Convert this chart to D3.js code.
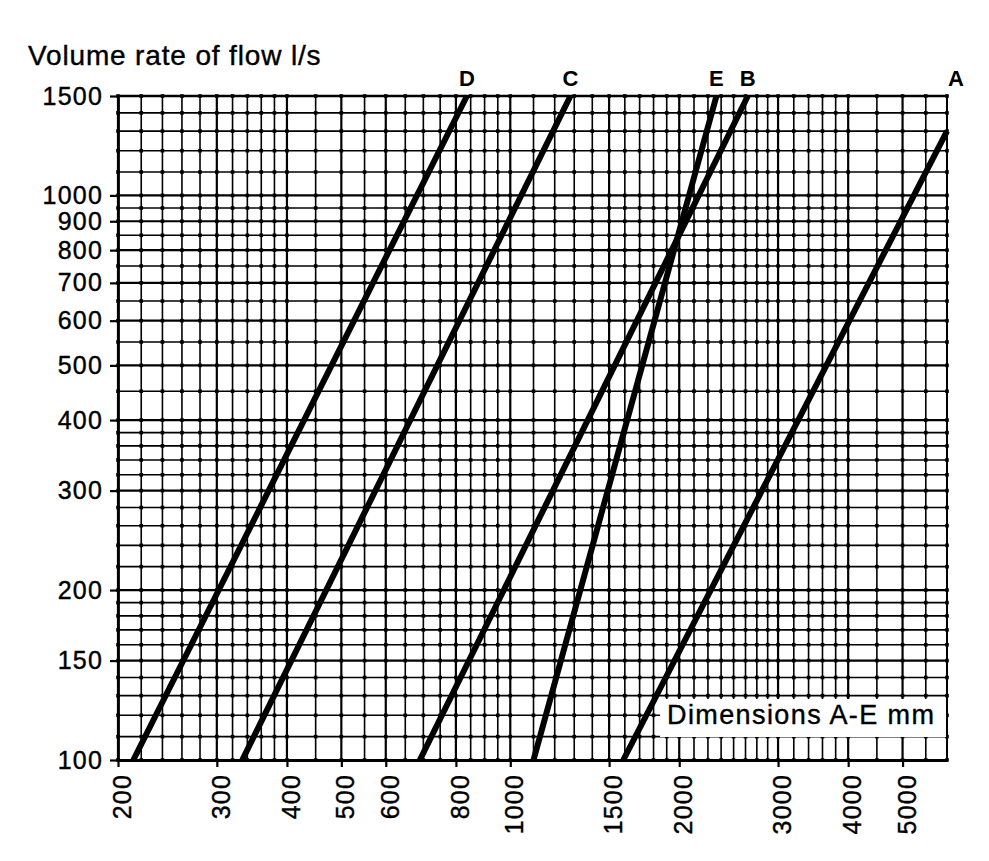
<!DOCTYPE html>
<html>
<head>
<meta charset="utf-8">
<script src="https://cdn.jsdelivr.net/npm/d3@7"></script>
<style>
body { margin: 0; background: #fff; }
text { font-family: "Liberation Sans", Arial, Helvetica, sans-serif; fill: #000; }
</style>
</head>
<body>
<div id="chart"></div>
<script>
// lines A-E: dimension (mm) at the lower and upper end of each line
var curve_names = ["A", "B", "C", "D", "E"];
var dim_low = [1590, 690, 333, 213, 1100];
var flow_low = [100, 100, 100, 100, 100];
var dim_high = [6000, 2650, 1280, 837, 2330];
var flow_high = [1300, 1500, 1500, 1500, 1500];

var x_ticks = [200, 300, 400, 500, 600, 800, 1000, 1500, 2000, 3000, 4000, 5000];
var y_ticks = [100, 150, 200, 300, 400, 500, 600, 700, 800, 900, 1000, 1500];

// rulings of the log paper: [from, to, step]
var x_rulings = [[200, 400, 20], [400, 1000, 50], [1000, 2000, 100], [2000, 3000, 125], [3000, 4000, 200], [4000, 6000, 500]];
var y_rulings = [[100, 200, 10], [200, 400, 20], [400, 1000, 50], [1000, 1500, 100]];

var margin = { top: 96, right: 42, bottom: 101, left: 118 },
    width = 989 - margin.left - margin.right,
    height = 861 - margin.top - margin.bottom;

var svg = d3.select("#chart")
    .append("svg")
    .attr("width", 989)
    .attr("height", 861)
    .append("g").attr("transform", "translate(" + margin.left + "," + margin.top + ")");

var x = d3.scaleLog().domain([200, 6000]).range([0, width]);
var y = d3.scaleLog().domain([100, 1500]).range([height, 0]);

function rulings(list) {
    var out = [];
    list.forEach(function (r) {
        d3.range(r[0], r[1] + r[2] / 2, r[2]).forEach(function (v) {
            if (out.indexOf(v) < 0) out.push(v);
        });
    });
    return out;
}
var gx = rulings(x_rulings);
var gy = rulings(y_rulings);

var grid = svg.append("g").attr("class", "grid");

grid.selectAll(".vline")
    .data(gx)
    .enter().append("line")
    .attr("class", "vline")
    .attr("x1", function (d) { return x(d); })
    .attr("x2", function (d) { return x(d); })
    .attr("y1", 0)
    .attr("y2", height)
    .attr("stroke", "#000")
    .attr("stroke-width", function (d) { return x_ticks.indexOf(d) >= 0 ? 2.2 : 1.6; });

grid.selectAll(".hline")
    .data(gy)
    .enter().append("line")
    .attr("class", "hline")
    .attr("x1", 0)
    .attr("x2", width)
    .attr("y1", function (d) { return y(d); })
    .attr("y2", function (d) { return y(d); })
    .attr("stroke", "#000")
    .attr("stroke-width", function (d) { return y_ticks.indexOf(d) >= 0 ? 2.2 : 1.6; });

// the little dots where the rulings cross
var crossings = [];
gx.forEach(function (a) { gy.forEach(function (b) { crossings.push([a, b]); }); });
grid.selectAll(".dot")
    .data(crossings)
    .enter().append("rect")
    .attr("class", "dot")
    .attr("x", function (d) { return x(d[0]) - 1.8; })
    .attr("y", function (d) { return y(d[1]) - 1.8; })
    .attr("width", 3.6)
    .attr("height", 3.6)
    .attr("fill", "#000");

// frame on the top and right
svg.append("line").attr("x1", 0).attr("x2", width).attr("y1", 0).attr("y2", 0)
    .attr("stroke", "#000").attr("stroke-width", 2.4);
svg.append("line").attr("x1", width).attr("x2", width).attr("y1", 0).attr("y2", height)
    .attr("stroke", "#000").attr("stroke-width", 2);

// white label box in the lower right
svg.append("rect")
    .attr("x", 542)
    .attr("y", 603)
    .attr("width", width - 543)
    .attr("height", 38)
    .attr("fill", "#fff");
svg.append("text")
    .attr("x", 549)
    .attr("y", 628)
    .attr("font-size", "27px")
    .attr("letter-spacing", "1.4px")
    .attr("stroke", "#000")
    .attr("stroke-width", 0.4)
    .text("Dimensions A-E mm");

// the five lines
var line = d3.line()
    .x(function (d) { return x(d[0]); })
    .y(function (d) { return y(d[1]); });

var curves = curve_names.map(function (name, i) {
    return { name: name, points: [[dim_low[i], flow_low[i]], [dim_high[i], flow_high[i]]] };
});

svg.selectAll(".curve")
    .data(curves)
    .enter().append("path")
    .attr("class", "curve")
    .attr("d", function (d) { return line(d.points); })
    .attr("fill", "none")
    .attr("stroke", "#000")
    .attr("stroke-width", 6);

svg.selectAll(".curve-label")
    .data(curves)
    .enter().append("text")
    .attr("class", "curve-label")
    .attr("x", function (d) {
        var top = d.points[1];
        // A runs out of the right edge, its letter sits just past the frame
        return x(top[0]) + (top[1] < 1500 ? 9 : 0);
    })
    .attr("y", -10)
    .attr("text-anchor", "middle")
    .attr("font-size", "22px")
    .attr("font-weight", "bold")
    .text(function (d) { return d.name; });

// axes
var yAxis = svg.append("g")
    .call(d3.axisLeft(y).tickValues(y_ticks).tickSize(8).tickSizeOuter(0).tickPadding(7)
        .tickFormat(d3.format("d")));
yAxis.select(".domain").attr("stroke-width", 2.8);
yAxis.selectAll(".tick line").attr("stroke-width", 2.2);
yAxis.selectAll("text")
    .attr("font-size", "25px")
    .attr("letter-spacing", "1.2px")
    .attr("font-family", null);

var xAxis = svg.append("g")
    .attr("transform", "translate(0," + height + ")")
    .call(d3.axisBottom(x).tickValues(x_ticks).tickSize(7).tickSizeOuter(0)
        .tickFormat(d3.format("d")));
xAxis.select(".domain").attr("stroke-width", 2.8);
xAxis.selectAll(".tick line").attr("stroke-width", 2.2);
xAxis.selectAll("text")
    .attr("font-size", "25px")
    .attr("letter-spacing", "1.2px")
    .attr("font-family", null)
    .attr("transform", "rotate(-90)")
    .attr("text-anchor", "end")
    .attr("x", -14)
    .attr("y", 0)
    .attr("dy", "0.5em");

d3.selectAll(".tick text")
    .style("fill", "#000")
    .attr("stroke", "#000")
    .attr("stroke-width", 0.4);

// axis title
svg.append("text")
    .attr("x", 28 - margin.left)
    .attr("y", 65 - margin.top)
    .attr("font-size", "28px")
    .attr("letter-spacing", "0.85px")
    .attr("stroke", "#000")
    .attr("stroke-width", 0.4)
    .text("Volume rate of flow l/s");
</script>
</body>
</html>
